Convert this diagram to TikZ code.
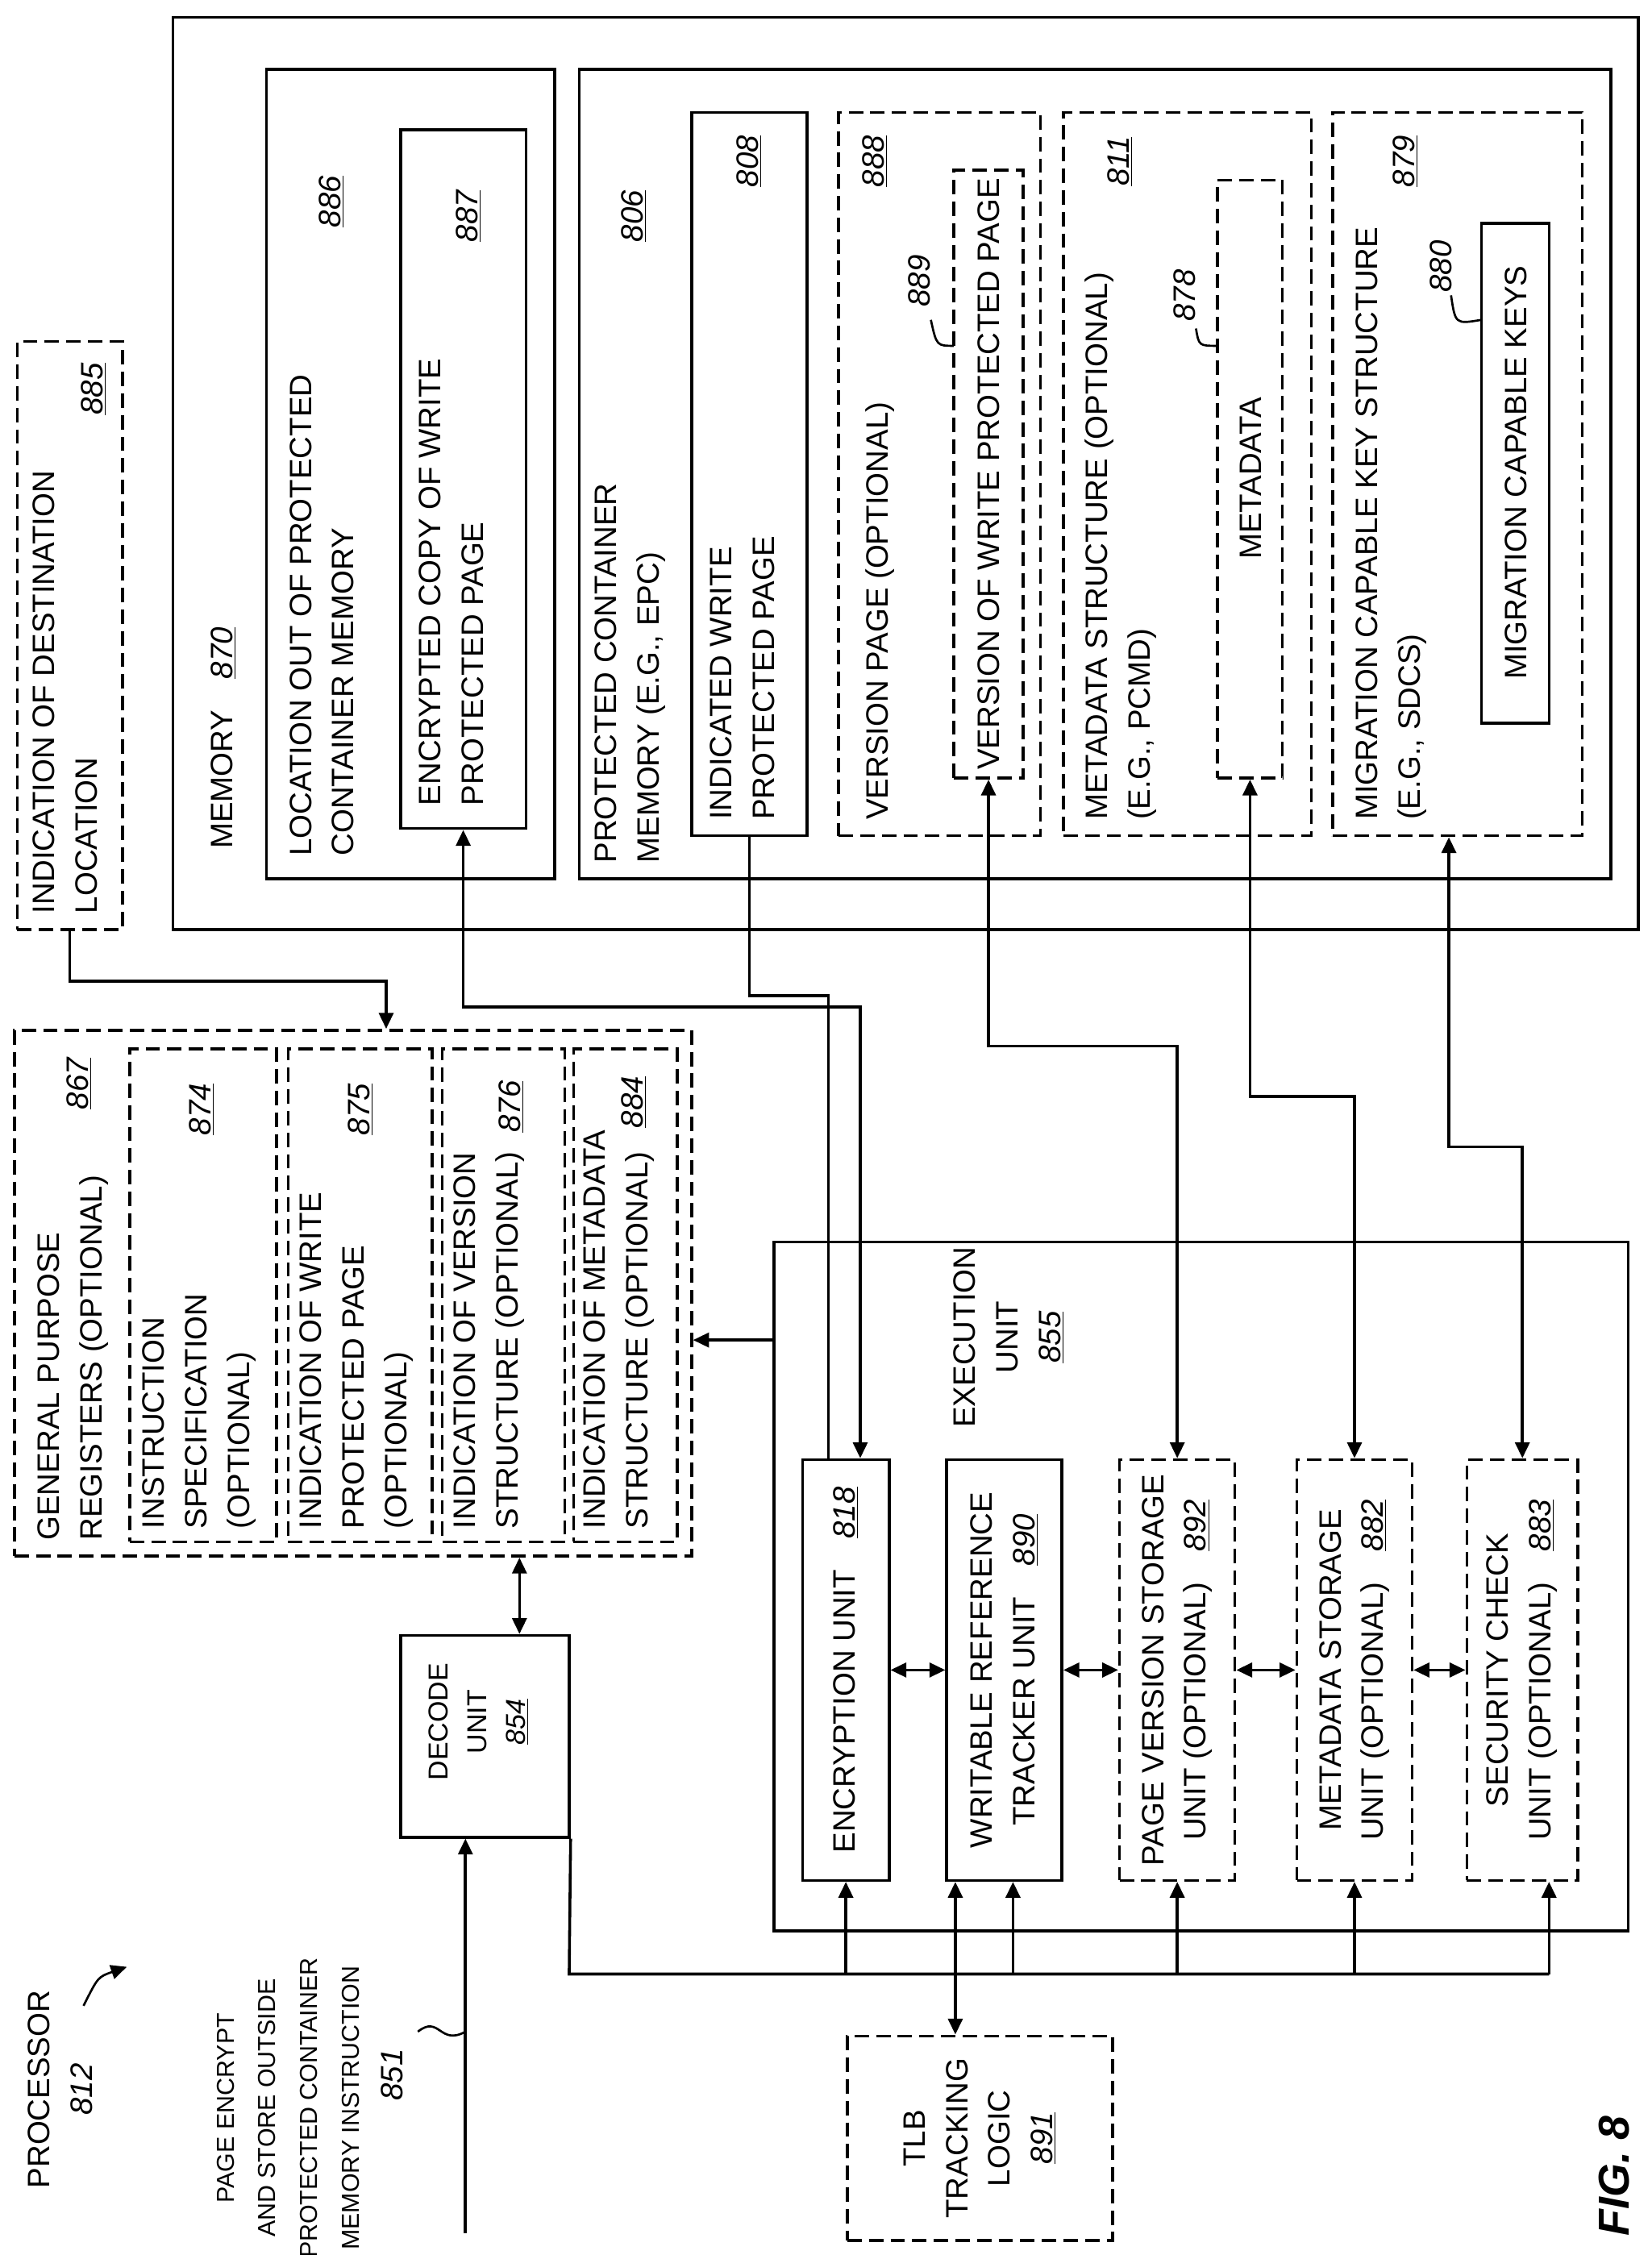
\documentclass[tikz,border=0pt]{standalone}
\usepackage{fontspec}
\setmainfont{Liberation Sans}
\usetikzlibrary{arrows.meta}
\newcommand\un[1]{\underline{#1}}
\newcommand\fs{\fontsize{21.5}{29.5}\selectfont}
\begin{document}
\begin{tikzpicture}[x=1pt,y=-1pt,line width=2pt,
  >={Triangle[length=11pt,width=10pt]},
  box/.style={draw,inner sep=0,rectangle},
  dsh/.style={box,dash pattern=on 10pt off 5pt},
  t/.style={rotate=90,font=\fs,align=left,inner sep=0},
  tc/.style={rotate=90,font=\fs,align=center,inner sep=0}]
\useasboundingbox (0,0) rectangle (1146,1565);
\newcommand\bx[6]{\node[#1,minimum width=#4-#3,minimum height=#6-#5] (#2) at ({(#3+#4)/2},{(#5+#6)/2}) {};}
\bx{box}{n870}{120}{1137}{12}{645}
\bx{box}{n886}{185}{385}{48}{610}
\bx{box}{n887}{278}{365}{90}{575}
\bx{box}{n806}{402}{1118}{48}{610}
\bx{box}{n808}{480}{560}{78}{580}
\bx{dsh}{n888}{582}{722}{78}{580}
\bx{dsh}{n889}{662}{710}{118}{540}
\bx{dsh}{n811}{738}{910}{78}{580}
\bx{dsh}{n878}{845}{890}{125}{540}
\bx{dsh}{n879}{925}{1098}{78}{580}
\bx{box}{n880}{1028}{1075}{155}{502}
\bx{dsh}{n885}{12}{85}{237}{645}
\bx{dsh}{n867}{10}{480}{715}{1080}
\bx{dsh}{n874}{90}{192}{728}{1070}
\bx{dsh}{n875}{200}{300}{728}{1070}
\bx{dsh}{n876}{307}{392}{728}{1070}
\bx{dsh}{n884}{398}{470}{728}{1070}
\bx{box}{n854}{278}{395}{1135}{1275}
\bx{box}{n855}{537}{1130}{862}{1340}
\bx{box}{n818}{557}{617}{1013}{1305}
\bx{box}{n890}{657}{737}{1013}{1305}
\bx{dsh}{n892}{777}{857}{1013}{1305}
\bx{dsh}{n882}{900}{980}{1013}{1305}
\bx{dsh}{n883}{1018}{1095}{1013}{1305}
\bx{dsh}{n891}{588}{772}{1413}{1555}
% texts
\node[t,anchor=west] (l870) at (155,590) {MEMORY\quad\textit{\un{870}}};
\node[t,anchor=north west] (l886) at (200,595) {LOCATION OUT OF PROTECTED\\CONTAINER MEMORY};
\node[t,anchor=center] (m886) at (230,140) {\textit{\un{886}}};
\node[t,anchor=north west] (l887) at (290,560) {ENCRYPTED COPY OF WRITE\\PROTECTED PAGE};
\node[t,anchor=center] (m887) at (325,150) {\textit{\un{887}}};
\node[t,anchor=north west] (l806) at (412,600) {PROTECTED CONTAINER\\MEMORY (E.G., EPC)};
\node[t,anchor=center] (m806) at (440,150) {\textit{\un{806}}};
\node[t,anchor=north west] (l808) at (492,570) {INDICATED WRITE\\PROTECTED PAGE};
\node[t,anchor=center] (m808) at (520,112) {\textit{\un{808}}};
\node[t,anchor=north west] (l888) at (600,570) {VERSION PAGE (OPTIONAL)};
\node[t,anchor=center] (m888) at (607,112) {\textit{\un{888}}};
\node[tc] (l889) at (686,329) {VERSION OF WRITE PROTECTED PAGE};
\node[t] (m889) at (638,195) {\textit{889}};
\node[t,anchor=north west] (l811) at (752,570) {METADATA STRUCTURE (OPTIONAL)\\(E.G., PCMD)};
\node[t,anchor=center] (m811) at (777,112) {\textit{\un{811}}};
\node[tc] (l878) at (868,332) {METADATA};
\node[t] (m878) at (822,205) {\textit{878}};
\node[t,anchor=north west] (l879) at (940,570) {MIGRATION CAPABLE KEY STRUCTURE\\(E.G., SDCS)};
\node[t,anchor=center] (m879) at (975,112) {\textit{\un{879}}};
\node[tc] (l880) at (1052,328) {MIGRATION CAPABLE KEYS};
\node[t] (m880) at (1000,185) {\textit{880}};
\node[t,anchor=north west] (l885) at (22,635) {INDICATION OF DESTINATION\\LOCATION};
\node[t] (m885) at (65,270) {\textit{\un{885}}};
\node[t,anchor=north west] (l867) at (25,1070) {GENERAL PURPOSE\\REGISTERS (OPTIONAL)};
\node[t] (m867) at (55,752) {\textit{\un{867}}};
\node[t,anchor=north west] (l874) at (98,1062) {INSTRUCTION\\SPECIFICATION\\(OPTIONAL)};
\node[t] (m874) at (140,770) {\textit{\un{874}}};
\node[t,anchor=north west] (l875) at (207,1062) {INDICATION OF WRITE\\PROTECTED PAGE\\(OPTIONAL)};
\node[t] (m875) at (250,770) {\textit{\un{875}}};
\node[t,anchor=north west] (l876) at (314,1062) {INDICATION OF VERSION\\STRUCTURE (OPTIONAL)};
\node[t] (m876) at (355,768) {\textit{\un{876}}};
\node[t,anchor=north west] (l884) at (404,1062) {INDICATION OF METADATA\\STRUCTURE (OPTIONAL)};
\node[t] (m884) at (440,765) {\textit{\un{884}}};
\node[tc,font=\fontsize{19}{27}\selectfont] (l854) at (332,1195) {DECODE\\UNIT\\\textit{\un{854}}};
\node[tc] (l855) at (700,928) {EXECUTION\\UNIT\\\textit{\un{855}}};
\node[tc] (l818) at (587,1159) {ENCRYPTION UNIT\quad\textit{\un{818}}};
\node[tc] (l890) at (697,1159) {WRITABLE REFERENCE\\TRACKER UNIT\quad\textit{\un{890}}};
\node[tc] (l892) at (817,1159) {PAGE VERSION STORAGE\\UNIT (OPTIONAL)\quad\textit{\un{892}}};
\node[tc] (l882) at (940,1159) {METADATA STORAGE\\UNIT (OPTIONAL)\quad\textit{\un{882}}};
\node[tc] (l883) at (1056,1159) {SECURITY CHECK\\UNIT (OPTIONAL)\quad\textit{\un{883}}};
\node[tc] (l891) at (680,1484) {TLB\\TRACKING\\LOGIC\\\textit{\un{891}}};
\node[tc,font=\fontsize{17}{29}\selectfont] (l851) at (200,1463) {PAGE ENCRYPT\\AND STORE OUTSIDE\\PROTECTED CONTAINER\\MEMORY INSTRUCTION};
\node[t] (m851) at (272,1440) {\textit{851}};
\node[tc] (l812) at (42,1450) {PROCESSOR\\\textit{812}};
\node[rotate=90,font=\fontsize{30}{30}\selectfont\bfseries\itshape,inner sep=0] (fig) at (1120,1510) {FIG. 8};
% leaders
\draw[line width=1.5pt] (646,222) .. controls (650,240) .. (662,240);
\draw[line width=1.5pt] (830,228) .. controls (832,240) .. (845,240);
\draw[line width=1.5pt] (1007,205) .. controls (1010,225) .. (1028,222);
\draw[line width=1.5pt] (290,1410) .. controls (305,1398) and (305,1420) .. (323,1410);
\draw[line width=1.5pt,->] (58,1392) .. controls (68,1372) .. (88,1365);
% connectors
\draw (n808.south) -- ++(0,110) -| ([xshift=-12pt]n818.north);
\draw[<->] ([xshift=10pt]n818.north) -- ++(0,-313) -| (n887.south);
\draw[<->] (n889.south) -- ++(0,185) -| (n892.north);
\draw[<->] (n878.south) -- ++(0,220) -| (n882.north);
\draw[<->] ([xshift=-6pt]n879.south) -- ++(0,215) -| (n883.north);
\draw[->] (n885.south) -- ++(0,35) -| ([xshift=23pt]n867.north);
\coordinate (e1) at (537,930);
\draw[->] (e1) -- (e1 -| n867.east);
\draw[<->] ([xshift=24pt]n854.north) -- ([xshift=24pt]n854.north |- n867.south);
\draw[<->] (n818.east) -- (n890.west);
\draw[<->] (n890.east) -- (n892.west);
\draw[<->] (n892.east) -- (n882.west);
\draw[<->] (n882.east) -- (n883.west);
\coordinate (bus) at (395,1370);
\coordinate (busend) at (1075,1370);
\draw (n854.south east) -- (bus) -- (busend);
\draw[->] (bus -| n818.south) -- (n818.south);
\draw[->] ([xshift=6pt]n890.south |- bus) -- ([xshift=6pt]n890.south);
\draw[->] (bus -| n892.south) -- (n892.south);
\draw[->] (bus -| n882.south) -- (n882.south);
\draw[->] (busend) -- (busend |- n883.south);
\draw[<->] ([xshift=-17pt]n891.north) -- ([xshift=-17pt]n891.north |- n890.south);
\coordinate (ins) at (323,1550);
\draw[->] (ins) -- (ins |- n854.south);
\end{tikzpicture}
\end{document}
